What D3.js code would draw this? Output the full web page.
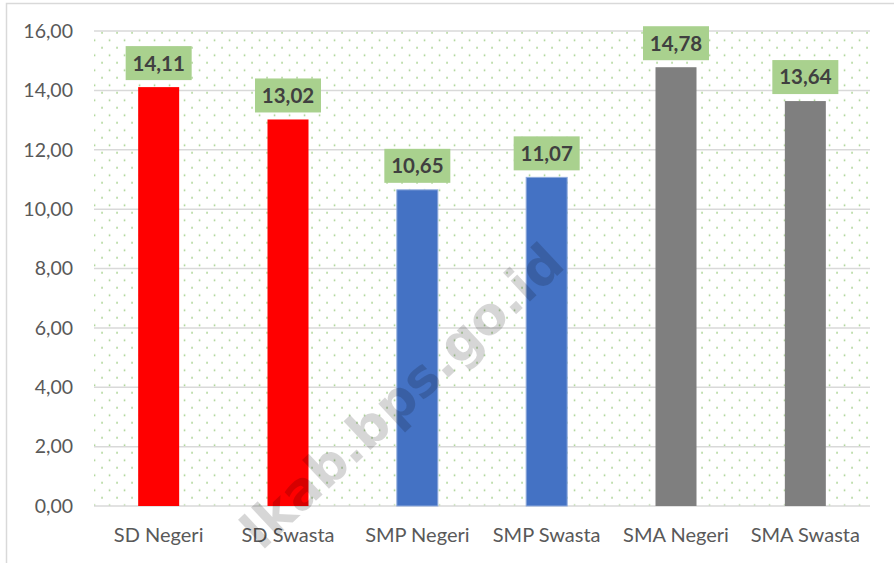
<!DOCTYPE html>
<html><head><meta charset="utf-8">
<script src="https://cdn.jsdelivr.net/npm/d3@7"></script>
<style>body{margin:0;background:#fff}svg{display:block}</style>
</head><body>
<svg id="c" width="894" height="563"></svg>
<script>
const categories = ["SD Negeri","SD Swasta","SMP Negeri","SMP Swasta","SMA Negeri","SMA Swasta"];
const values = [14.11, 13.02, 10.65, 11.07, 14.78, 13.64];
const barColors = ["#ff0000","#ff0000","#4472c4","#4472c4","#7f7f7f","#7f7f7f"];
const yTicks = [0,2,4,6,8,10,12,14,16];
const fmt = v => v.toFixed(2).replace(".", ",");

const svg = d3.select("#c");
const W = 894, H = 563;
const m = {left:94, right:870, top:31, bottom:506};

svg.append("rect").attr("x",6.5).attr("y",3.5).attr("width",W).attr("height",H)
  .attr("fill","#fff").attr("stroke","#d9d9d9").attr("stroke-width",1.5);

const x = d3.scaleBand().domain(categories).range([m.left,m.right]).paddingInner(0.683).paddingOuter(0.3415);
const y = d3.scaleLinear().domain([0,16]).range([m.bottom,m.top]);

const defs = svg.append("defs");
const pat = defs.append("pattern").attr("id","dots").attr("patternUnits","userSpaceOnUse")
  .attr("x",102).attr("y",32.7).attr("width",15).attr("height",15);
[[0,0],[7.5,7.5],[15,15],[0,15],[15,0]].forEach(([px,py])=>{
  pat.append("rect").attr("x",px-0.75).attr("y",py-0.75).attr("width",1.6).attr("height",1.6).attr("fill","#9fcf85");
});

svg.append("rect").attr("x",m.left).attr("y",m.top).attr("width",m.right-m.left).attr("height",m.bottom-m.top)
  .attr("fill","url(#dots)");

// gridlines
svg.append("g").selectAll("line").data(yTicks).join("line")
  .attr("x1",m.left).attr("x2",m.right)
  .attr("y1",d=>y(d)).attr("y2",d=>y(d))
  .attr("stroke","#d9d9d9").attr("stroke-width",1.5);

// y tick labels
svg.append("g").selectAll("text").data(yTicks).join("text")
  .attr("x",73).attr("y",d=>y(d)).attr("dy","0.35em")
  .attr("text-anchor","end").attr("font-family","Lato, sans-serif").attr("font-size",19.5)
  .attr("fill","#595959").text(d=>fmt(d));

// bars
svg.append("g").selectAll("rect").data(values).join("rect")
  .attr("x",(d,i)=>x(categories[i])).attr("width",x.bandwidth())
  .attr("y",d=>y(d)).attr("height",d=>y(0)-y(d))
  .attr("fill",(d,i)=>barColors[i])
  .attr("stroke",(d,i)=>barColors[i]==="#4472c4"?"#8faadc":"none").attr("stroke-width",1);

// category labels
svg.append("g").selectAll("text").data(categories).join("text")
  .attr("x",d=>x(d)+x.bandwidth()/2).attr("y",542)
  .attr("text-anchor","middle").attr("font-family","Lato, sans-serif").attr("font-size",20)
  .attr("fill","#595959").text(d=>d);

// data labels
const lg = svg.append("g").selectAll("g").data(values).join("g")
  .attr("transform",(d,i)=>`translate(${x(categories[i])+x.bandwidth()/2},${y(d)-7})`);
lg.append("rect").attr("x",-33).attr("y",-34).attr("width",66).attr("height",34).attr("fill","#a9d18e");
lg.append("text").attr("x",0).attr("y",-17).attr("dy","0.36em").attr("text-anchor","middle")
  .attr("font-family","Lato, sans-serif").attr("font-weight","bold").attr("font-size",20.5)
  .attr("fill","#404040").text(d=>fmt(d));

// watermark
svg.append("text").attr("transform","translate(402,396) rotate(-43)")
  .attr("text-anchor","middle").attr("dominant-baseline","central")
  .attr("font-family","'DejaVu Sans', sans-serif").attr("font-weight","bold").attr("font-size",52)
  .attr("fill","#000").attr("fill-opacity",0.16).text("lkab.bps.go.id");
</script>
</body></html>
